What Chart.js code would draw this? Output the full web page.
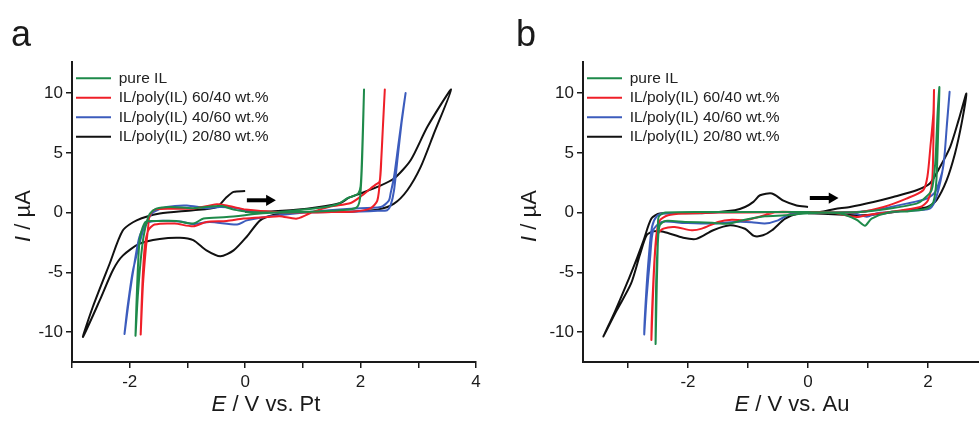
<!DOCTYPE html>
<html>
<head>
<meta charset="utf-8">
<script src="https://cdn.jsdelivr.net/npm/chart.js@4.4.1/dist/chart.umd.min.js"></script>
<style>
  html, body { margin: 0; padding: 0; background: #fff; overflow: hidden; }
  #wrapA { position: absolute; left: 0; top: 0; }
  #wrapB { position: absolute; left: 490px; top: 0; }
</style>
</head>
<body>
<div id="wrapA"><canvas id="chartA" width="490" height="426"></canvas></div>
<div id="wrapB"><canvas id="chartB" width="510" height="426"></canvas></div>
<script>
// legend names
const seriesNames = ['pure IL', 'IL/poly(IL) 60/40 wt.%', 'IL/poly(IL) 40/60 wt.%', 'IL/poly(IL) 20/80 wt.%'];
const seriesColors = ['#1e8a4a', '#ef1f28', '#3c5cbd', '#111111'];

// tick values
const yTicks = [-10, -5, 0, 5, 10];
const xTicksPt = [-3, -2, -1, 0, 1, 2, 3, 4];
const xTicksAu = [-3, -2, -1, 0, 1, 2, 3];

// panel a: E (V vs. Pt), I (µA)
const ptPure = [[0,0.05],[0.5,0.0],[1.0,0.05],[1.5,0.15],[1.8,0.25],[1.94,0.47],[1.99,1.2],[2.02,3.5],[2.04,6.5],[2.06,10.3],
  [2.04,7],[2.02,4],[2.0,2.2],[1.96,1.6],[1.88,1.4],[1.77,1.2],[1.6,0.7],[1.3,0.4],[0.9,0.2],[0.5,0.0],[0.26,-0.08],
  [-0.32,-0.37],[-0.72,-0.5],[-0.9,-0.92],[-1.19,-0.7],[-1.54,-0.7],[-1.72,-0.75],[-1.78,-1.3],[-1.83,-2.3],[-1.87,-5.95],[-1.9,-10.3],
  [-1.86,-7],[-1.81,-4],[-1.76,-2],[-1.7,-0.7],[-1.65,-0.08],[-1.54,0.33],[-1.3,0.47],[-0.9,0.37],[-0.55,0.53],[-0.4,0.55],[-0.2,0.25],[0,0.1]];
const ptMix6040 = [[0,0.25],[0.5,0.05],[1.0,0.0],[1.5,0.05],[1.9,0.1],[2.17,0.36],[2.29,1.0],[2.34,3],[2.38,6.5],[2.42,10.3],
  [2.39,7.5],[2.36,4.5],[2.33,2.6],[2.25,2.3],[2.17,2.0],[2.03,1.45],[1.83,0.8],[1.48,0.5],[1.2,0.1],[0.9,-0.5],[0.6,-0.3],[0.38,-0.37],
  [-0.03,-0.5],[-0.32,-0.7],[-0.67,-0.78],[-0.9,-1.15],[-1.22,-0.92],[-1.57,-1.0],[-1.68,-1.5],[-1.74,-2.9],[-1.78,-5.95],[-1.81,-10.2],
  [-1.77,-6],[-1.72,-3],[-1.68,-1.2],[-1.66,-0.37],[-1.57,0.25],[-1.22,0.33],[-0.9,0.33],[-0.49,0.7],[-0.32,0.6],[0,0.25]];
const ptMix4060 = [[0,0.2],[0.5,0.0],[1.0,0.0],[1.5,0.05],[2.0,0.1],[2.3,0.15],[2.46,0.2],[2.52,0.6],[2.58,1.87],[2.64,4.5],[2.71,7.5],[2.78,10.0],
  [2.72,8],[2.65,5.5],[2.58,3],[2.52,1.6],[2.49,1.0],[2.35,0.47],[1.83,0.33],[1.2,0.1],[0.55,-0.25],[0.03,-0.65],[-0.14,-1.0],
  [-0.61,-0.78],[-0.9,-0.95],[-1.13,-0.75],[-1.54,-0.7],[-1.71,-0.92],[-1.83,-2.0],[-1.91,-4.0],[-2.0,-6.8],[-2.09,-10.15],
  [-2.04,-8],[-1.95,-5],[-1.86,-3.16],[-1.75,-1.2],[-1.65,-0.3],[-1.59,0.05],[-1.36,0.47],[-1.01,0.6],[-0.67,0.37],[-0.44,0.47],[-0.2,0.4],[0,0.2]];
const ptMix2080 = [[0,0.05],[0.5,0.12],[1.07,0.33],[1.4,0.55],[1.65,0.8],[1.8,1.25],[2.0,1.6],[2.29,2.15],[2.58,2.85],[2.87,4.4],[3.16,7.2],[3.57,10.3],
  [3.27,6.6],[3.04,3.8],[2.81,1.87],[2.58,0.75],[2.29,0.25],[1.8,0.08],[1.2,0.05],[0.8,0.0],[0.49,-0.2],[0.26,-0.65],[0.03,-2.0],
  [-0.2,-3.16],[-0.43,-3.66],[-0.67,-3.16],[-0.9,-2.3],[-1.13,-2.1],[-1.48,-2.2],[-1.83,-2.6],[-2.12,-3.6],[-2.29,-4.8],[-2.52,-7.35],[-2.81,-10.4],
  [-2.64,-7.9],[-2.35,-4.3],[-2.12,-1.5],[-1.88,-0.65],[-1.48,-0.08],[-0.9,0.2],[-0.49,0.47],[-0.32,1.3],[-0.2,1.73],[0,1.8]];
const ptArrow = [[0.03,1.03],[0.42,1.03]];

// panel b: E (V vs. Au), I (µA)
const auPure = [[0,0.05],[0.53,-0.08],[0.81,-0.6],[0.95,-1.1],[1.06,-0.5],[1.37,0.05],[1.64,0.1],[1.98,0.34],[2.09,0.89],[2.14,2.7],[2.17,6.9],[2.19,10.5],
  [2.16,8.3],[2.12,4.1],[2.06,1.87],[1.92,1.1],[1.81,0.75],[1.37,0.34],[0.87,0.05],[0.3,0.0],[-0.05,-0.08],[-0.38,-0.23],[-0.72,-0.31],
  [-1.05,-0.59],[-1.33,-0.92],[-1.6,-0.85],[-2.05,-0.78],[-2.38,-0.7],[-2.47,-1.06],[-2.5,-2.3],[-2.53,-5.7],[-2.54,-11.0],
  [-2.52,-6],[-2.5,-2],[-2.49,-0.37],[-2.38,0.0],[-1.5,0.05],[-0.5,0.05],[0,0.05]];
const auMix6040 = [[0,0.05],[0.4,0.0],[0.81,-0.37],[1.0,-0.2],[1.37,0.05],[1.87,0.47],[2.0,1.03],[2.07,2.7],[2.09,6],[2.1,10.25],
  [2.09,8.3],[2.04,5.5],[1.99,3.0],[1.92,1.87],[1.64,1.17],[1.26,0.47],[0.87,0.05],[0.3,0.0],[-0.05,0.0],[-0.5,0.05],[-0.83,-0.37],
  [-1.05,-0.65],[-1.27,-0.59],[-1.5,-0.78],[-1.77,-1.34],[-1.94,-1.48],[-2.22,-1.2],[-2.41,-1.34],[-2.5,-1.76],[-2.55,-3.44],[-2.58,-6.5],[-2.61,-10.65],
  [-2.58,-6],[-2.53,-2],[-2.47,-0.65],[-2.33,-0.22],[-2.05,-0.08],[-1.5,0.0],[-0.5,0.02],[0,0.05]];
const auMix4060 = [[0,0.05],[0.5,0.0],[0.8,-0.1],[0.98,-0.35],[1.15,-0.05],[1.64,0.15],[2.03,0.34],[2.14,1.31],[2.26,4.1],[2.32,7.7],[2.36,10.1],
  [2.31,7],[2.27,4.5],[2.23,3.27],[2.12,1.73],[1.98,1.17],[1.64,0.75],[1.09,0.2],[0.81,0.05],[0.3,0.0],[-0.27,-0.08],[-0.5,-0.65],
  [-0.72,-0.92],[-0.94,-0.8],[-1.22,-0.78],[-1.6,-0.92],[-2.05,-0.87],[-2.44,-0.78],[-2.58,-1.48],[-2.63,-3.7],[-2.69,-7.07],[-2.73,-10.2],
  [-2.7,-7],[-2.65,-3.5],[-2.6,-1.2],[-2.52,-0.3],[-2.41,-0.08],[-1.5,0.03],[-0.5,0.05],[0,0.05]];
const auMix2080 = [[0,-0.05],[0.5,-0.15],[0.92,-0.22],[1.3,-0.05],[1.64,0.2],[1.98,0.45],[2.14,1.03],[2.31,2.7],[2.45,4.95],[2.56,7.46],[2.64,9.97],
  [2.51,7.74],[2.37,5.5],[2.2,3.82],[2.03,2.43],[1.81,1.87],[1.42,1.31],[1.09,0.89],[0.7,0.47],[0.45,0.3],[0.2,0.05],[-0.16,-0.08],
  [-0.38,-0.5],[-0.6,-1.48],[-0.75,-1.9],[-0.9,-1.95],[-1.05,-1.35],[-1.3,-1.06],[-1.58,-1.48],[-1.86,-2.2],[-2.08,-2.1],[-2.41,-1.6],
  [-2.58,-1.57],[-2.69,-1.9],[-2.8,-3.5],[-2.95,-5.95],[-3.19,-8.2],[-3.41,-10.37],
  [-3.22,-8.3],[-3.02,-5.95],[-2.85,-3.8],[-2.74,-2.32],[-2.61,-0.5],[-2.47,-0.08],[-1.77,-0.05],[-1.22,0.2],[-1.05,0.47],[-0.91,0.9],
  [-0.8,1.45],[-0.6,1.6],[-0.41,1.0],[-0.19,0.6],[0,0.47]];
const auArrow = [[0.03,1.22],[0.40,1.22]];

const FONT = '"Liberation Sans", Arial, Helvetica, sans-serif';
const INK = '#1a1a1a';

function toXY(pairs) {
  return pairs.map(p => ({ x: p[0], y: p[1] }));
}

function buildDatasets(curves, arrow) {
  const sets = curves.map((c, i) => ({
    label: seriesNames[i],
    data: toXY(c),
    showLine: true,
    borderColor: seriesColors[i],
    backgroundColor: seriesColors[i],
    borderWidth: 2,
    pointRadius: 0,
    tension: 0.25
  }));
  // direction arrow
  sets.push({
    label: 'arrow',
    data: toXY(arrow),
    showLine: true,
    borderColor: '#000',
    backgroundColor: '#000',
    borderWidth: 4,
    pointRadius: [0, 6.5],
    pointStyle: 'triangle',
    rotation: 90,
    pointBorderWidth: 0
  });
  return sets;
}

// axis titles with italic symbol + panel letter
const titlesPlugin = {
  id: 'titles',
  afterDraw(chart, args, opts) {
    const ctx = chart.ctx;
    const area = chart.chartArea;
    ctx.save();
    ctx.fillStyle = INK;
    ctx.textAlign = 'left';
    ctx.textBaseline = 'alphabetic';
    ctx.font = '36px ' + FONT;
    ctx.fillText(opts.letter, opts.letterX, 46);

    drawMixed(ctx, [
      { t: opts.xSym, f: 'italic 22px ' + FONT },
      { t: opts.xRest, f: '22px ' + FONT }
    ], opts.xTitleX, 405, 0);
    drawMixed(ctx, [
      { t: 'I', f: 'italic 22px ' + FONT },
      { t: ' / µA', f: '22px ' + FONT }
    ], opts.yTitleX, (area.top + area.bottom) / 2 + 4, -Math.PI / 2);
    ctx.restore();
  }
};

function drawMixed(ctx, parts, cx, cy, rot) {
  ctx.save();
  ctx.translate(cx, cy);
  ctx.rotate(rot);
  ctx.textBaseline = 'middle';
  let total = 0;
  parts.forEach(p => { ctx.font = p.f; p.w = ctx.measureText(p.t).width; total += p.w; });
  let x = -total / 2;
  parts.forEach(p => { ctx.font = p.f; ctx.fillText(p.t, x, 0); x += p.w; });
  ctx.restore();
}

function makeChart(id, curves, arrow, cfg) {
  return new Chart(document.getElementById(id), {
    type: 'scatter',
    data: { datasets: buildDatasets(curves, arrow) },
    plugins: [titlesPlugin],
    options: {
      responsive: false,
      animation: false,
      layout: { padding: { left: 0, top: 62, right: cfg.padRight, bottom: 0 } },
      plugins: {
        tooltip: { enabled: false },
        legend: {
          position: 'chartArea',
          align: 'start',
          // empty title only pushes the rows down into the plot area
          title: { display: true, text: '', padding: { top: 62, bottom: 0 }, font: { size: 4.5, lineHeight: 1 } },
          labels: {
            usePointStyle: true,
            pointStyle: 'line',
            pointStyleWidth: 35,
            padding: 4,
            color: '#222',
            font: { family: FONT, size: 15.5, lineHeight: 1 },
            filter: item => item.datasetIndex < 4
          }
        },
        titles: cfg.titles
      },
      scales: {
        x: {
          type: 'linear',
          min: cfg.xMin,
          max: cfg.xMax,
          afterBuildTicks: s => { s.ticks = cfg.xTicks.map(v => ({ value: v })); },
          afterFit: s => { s.height = 64; },
          ticks: {
            autoSkip: false,
            maxRotation: 0,
            padding: 4,
            color: INK,
            font: { family: FONT, size: 17 },
            callback: v => (v % 2 === 0 ? String(v) : '')
          },
          grid: { drawOnChartArea: false, tickLength: 6, color: INK, lineWidth: 1.5 },
          border: { color: INK, width: 2 }
        },
        y: {
          type: 'linear',
          min: -12.5,
          max: 12.6,
          afterBuildTicks: s => { s.ticks = yTicks.map(v => ({ value: v })); },
          afterFit: s => { s.width = cfg.yWidth; },
          ticks: {
            padding: 3,
            color: INK,
            font: { family: FONT, size: 17 },
            callback: v => String(v)
          },
          grid: { drawOnChartArea: false, tickLength: 6, color: INK, lineWidth: 1.5 },
          border: { color: INK, width: 2 }
        }
      }
    }
  });
}

makeChart('chartA', [ptPure, ptMix6040, ptMix4060, ptMix2080], ptArrow, {
  xMin: -3, xMax: 4, xTicks: xTicksPt, padRight: 14, yWidth: 72,
  titles: { letter: 'a', letterX: 11, xSym: 'E', xRest: ' / V vs. Pt', xTitleX: 266, yTitleX: 24 }
});
makeChart('chartB', [auPure, auMix6040, auMix4060, auMix2080], auArrow, {
  xMin: -3.75, xMax: 3, xTicks: xTicksAu, padRight: 12, yWidth: 93,
  titles: { letter: 'b', letterX: 26, xSym: 'E', xRest: ' / V vs. Au', xTitleX: 302, yTitleX: 40 }
});
</script>
</body>
</html>
